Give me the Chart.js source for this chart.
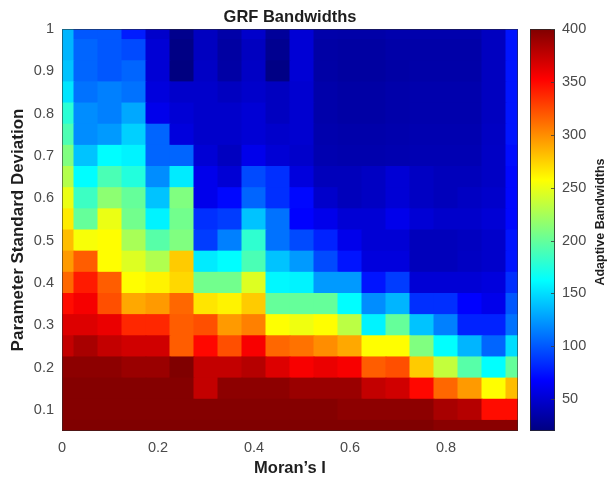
<!DOCTYPE html>
<html>
<head>
<meta charset="utf-8">
<title>GRF Bandwidths</title>
<script src="https://cdn.jsdelivr.net/npm/chart.js@4.4.1/dist/chart.umd.min.js"></script>
<style>
  html, body { margin: 0; padding: 0; background: #fff; }
  #wrap { width: 608px; height: 478px; position: relative; }
</style>
</head>
<body>
<div id="wrap"><canvas id="grfChart"></canvas></div>
<script>
// grid columns (Moran's I) and rows (parameter SD, top to bottom)
const moransI = [0, 0.05, 0.1, 0.15, 0.2, 0.25, 0.3, 0.35, 0.4, 0.45,
                 0.5, 0.55, 0.6, 0.65, 0.7, 0.75, 0.8, 0.85, 0.9, 0.95];
const paramSD = [1.0, 0.95, 0.9, 0.85, 0.8, 0.75, 0.7, 0.65, 0.6, 0.55,
                 0.5, 0.45, 0.4, 0.35, 0.3, 0.25, 0.2, 0.15, 0.1, 0.05];

// adaptive bandwidths, one row per paramSD value
const bandwidths = [
  [135, 100, 100,  78,  48,  25,  44,  35,  48,  30,  52,  36,  35,  35,  37,  37,  37,  37,  44,  75],
  [135, 105, 100,  95,  52,  22,  44,  33,  44,  26,  52,  34,  33,  33,  35,  35,  35,  35,  44,  75],
  [140, 105, 100, 105,  52,  20,  46,  34,  46,  22,  52,  34,  32,  32,  34,  35,  35,  35,  44,  75],
  [153, 110, 115, 110,  55,  48,  48,  44,  48,  44,  50,  36,  34,  34,  36,  37,  37,  37,  44,  75],
  [178, 120, 115, 130,  60,  52,  48,  48,  52,  44,  50,  36,  34,  34,  36,  37,  37,  37,  44,  75],
  [191, 120, 125, 145, 105,  55,  48,  48,  52,  48,  50,  37,  36,  36,  37,  38,  38,  38,  45,  75],
  [210, 140, 162, 158, 105, 105,  52,  44,  60,  52,  48,  38,  37,  37,  38,  39,  39,  39,  46,  72],
  [229, 162, 190, 175, 120, 155,  60,  52,  95,  85,  55,  42,  42,  45,  52,  45,  42,  42,  46,  70],
  [250, 185, 215, 200, 140, 210,  60,  70, 105,  85,  70,  48,  42,  45,  52,  45,  42,  45,  48,  70],
  [265, 200, 250, 205, 158, 205,  85,  90, 140, 110,  68,  60,  52,  52,  60,  52,  48,  48,  52,  70],
  [282, 255, 258, 225, 195, 210,  90, 115, 180, 110,  95,  80,  60,  52,  52,  42,  42,  44,  48,  75],
  [295, 318, 258, 245, 228, 277, 155, 162, 190, 140, 125,  95,  75,  55,  55,  42,  42,  45,  48,  75],
  [314, 343, 318, 258, 262, 272, 205, 205, 245, 160, 158, 125, 125,  75,  90,  52,  52,  52,  55,  85],
  [348, 356, 323, 290, 295, 314, 267, 262, 277, 200, 200, 200, 162, 120, 135,  85,  85,  68,  60, 100],
  [365, 365, 360, 338, 338, 318, 323, 295, 305, 257, 252, 258, 232, 158, 200, 140, 115,  80,  80, 110],
  [375, 385, 375, 370, 370, 318, 350, 323, 355, 314, 310, 300, 290, 258, 258, 210, 163, 135, 105, 150],
  [395, 395, 395, 390, 390, 400, 375, 375, 380, 365, 355, 360, 355, 318, 323, 277, 235, 195, 163, 200],
  [398, 398, 398, 398, 398, 398, 375, 395, 395, 395, 390, 390, 390, 375, 370, 350, 314, 295, 258, 282],
  [398, 398, 398, 398, 398, 398, 398, 398, 398, 398, 398, 398, 395, 395, 395, 395, 385, 380, 348, 348],
  [400, 400, 400, 400, 400, 400, 400, 400, 400, 400, 400, 400, 400, 400, 400, 400, 396, 396, 396, 396]
];

const xTicks = [0, 0.2, 0.4, 0.6, 0.8];
const yTicks = [0.1, 0.2, 0.3, 0.4, 0.5, 0.6, 0.7, 0.8, 0.9, 1];
const cbTicks = [50, 100, 150, 200, 250, 300, 350, 400];
const cMin = 20;
const cMax = 400;

const FONT = 'Liberation Sans, Arial, Helvetica, sans-serif';
const TICK_COLOR = '#4a4a4a';
const TITLE_COLOR = '#1e1e1e';

// MATLAB style jet colormap
function jet(t) {
    t = Math.min(1, Math.max(0, t));
    const c = v => Math.round(255 * Math.min(1, Math.max(0, v)));
    const r = c(1.5 - Math.abs(4 * t - 3));
    const g = c(1.5 - Math.abs(4 * t - 2));
    const b = c(1.5 - Math.abs(4 * t - 1));
    return `rgb(${r}, ${g}, ${b})`;
}
function jetColor(v) {
    return jet((v - cMin) / (cMax - cMin));
}

// one floating bar per cell
const halfY = (paramSD[0] - paramSD[1]) / 2;
const cells = [];
const cellColors = [];
paramSD.forEach((sd, r) => {
    moransI.forEach((mi, c) => {
        cells.push({ x: mi, y: [sd - halfY, sd + halfY] });
        cellColors.push(jetColor(bandwidths[r][c]));
    });
});

const fixedTicks = list => scale => { scale.ticks = list.map(v => ({ value: v })); };
const fmt = v => String(+Number(v).toFixed(2));

const extras = {
    id: 'extras',
    afterDatasetsDraw(chart) {
        const { ctx, chartArea: a } = chart;
        ctx.save();
        ctx.strokeStyle = 'rgba(40, 40, 40, 0.55)';
        ctx.lineWidth = 1;
        ctx.strokeRect(a.left + 0.5, a.top + 0.5, a.width - 1, a.height - 1);
        ctx.restore();
    },
    afterDraw(chart) {
        const { ctx, chartArea: a, scales } = chart;
        const cb = scales.cb;
        const left = a.right + 12;
        const w = 25;
        const top = cb.getPixelForValue(cMax);
        const bottom = cb.getPixelForValue(cMin);

        ctx.save();
        const grad = ctx.createLinearGradient(0, bottom, 0, top);
        [0, 0.125, 0.375, 0.625, 0.875, 1].forEach(t => grad.addColorStop(t, jet(t)));
        ctx.fillStyle = grad;
        ctx.fillRect(left, top, w, bottom - top);
        ctx.strokeStyle = 'rgba(40, 40, 40, 0.8)';
        ctx.lineWidth = 1;
        ctx.strokeRect(left + 0.5, top + 0.5, w - 1, bottom - top - 1);

        // colorbar tick marks
        ctx.strokeStyle = 'rgba(60, 60, 60, 0.8)';
        cbTicks.forEach(v => {
            const y = Math.round(cb.getPixelForValue(v)) + 0.5;
            ctx.beginPath();
            ctx.moveTo(left + w - 4, y);
            ctx.lineTo(left + w, y);
            ctx.stroke();
        });

        // main title
        ctx.fillStyle = TITLE_COLOR;
        ctx.textAlign = 'center';
        ctx.textBaseline = 'middle';
        ctx.font = `bold 16.5px ${FONT}`;
        ctx.fillText('GRF Bandwidths', (a.left + a.right) / 2, 17);

        // colorbar title
        ctx.translate(601, 222);
        ctx.rotate(-Math.PI / 2);
        ctx.font = `bold 12.5px ${FONT}`;
        ctx.fillText('Adaptive Bandwidths', 0, 0);
        ctx.restore();
    }
};

new Chart(document.getElementById('grfChart'), {
    type: 'bar',
    data: {
        datasets: [{
            data: cells,
            backgroundColor: cellColors,
            borderWidth: 0,
            barPercentage: 1,
            categoryPercentage: 1,
            inflateAmount: 0.5,
            clip: 0
        }]
    },
    options: {
        responsive: true,
        maintainAspectRatio: false,
        animation: false,
        layout: { padding: { left: 8, right: 22, top: 29, bottom: 0 } },
        plugins: {
            legend: { display: false },
            tooltip: { enabled: false }
        },
        scales: {
            x: {
                type: 'linear',
                min: 0,
                max: 0.95,
                offset: false,
                afterBuildTicks: fixedTicks(xTicks),
                afterFit: s => { s.height = 47; },
                grid: { display: false, drawTicks: false, offset: false },
                border: { display: false },
                ticks: {
                    padding: 8,
                    color: TICK_COLOR,
                    font: { family: FONT, size: 14.5 },
                    callback: fmt
                },
                title: {
                    display: true,
                    text: "Moran\u2019s I",
                    color: TITLE_COLOR,
                    font: { family: FONT, size: 16.5, weight: 'bold' },
                    padding: { top: 3, bottom: 0 }
                }
            },
            y: {
                type: 'linear',
                min: 0.05,
                max: 1.0,
                afterBuildTicks: fixedTicks(yTicks),
                afterFit: s => { s.width = 54; },
                grid: { display: false, drawTicks: false },
                border: { display: false },
                ticks: {
                    padding: 8,
                    color: TICK_COLOR,
                    font: { family: FONT, size: 14.5 },
                    callback: fmt
                },
                title: {
                    display: true,
                    text: 'Parameter Standard Deviation',
                    color: TITLE_COLOR,
                    font: { family: FONT, size: 17, weight: 'bold' },
                    padding: { top: 0, bottom: 5 }
                }
            },
            cb: {
                type: 'linear',
                position: 'right',
                min: cMin,
                max: cMax,
                afterBuildTicks: fixedTicks(cbTicks),
                afterFit: s => { s.width = 68; },
                // offset labels past the colorbar with tick length, not padding
                grid: { display: false, drawTicks: true, tickLength: 44 },
                border: { display: false },
                ticks: {
                    padding: 0,
                    color: TICK_COLOR,
                    font: { family: FONT, size: 14.5 }
                }
            }
        }
    },
    plugins: [extras]
});
</script>
</body>
</html>
